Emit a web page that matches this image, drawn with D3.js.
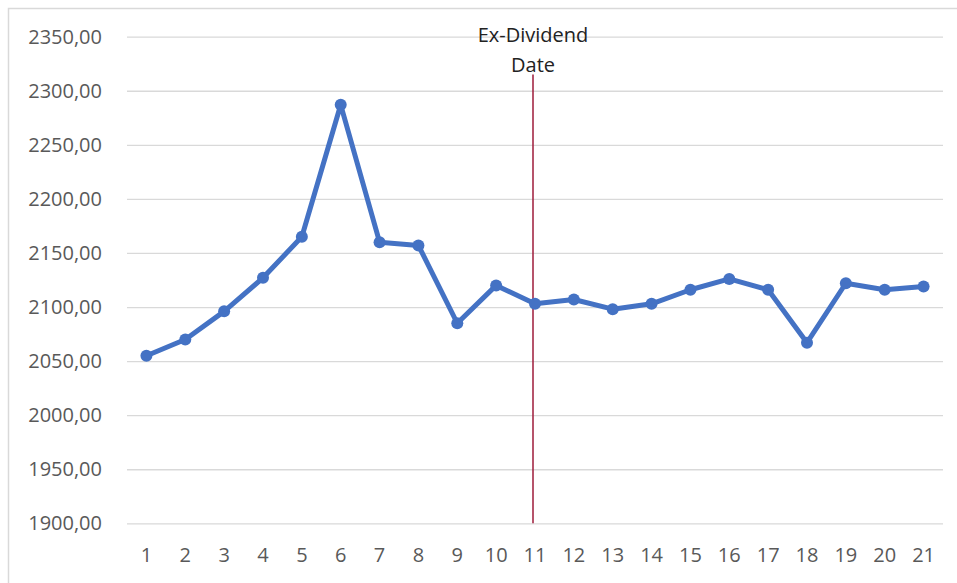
<!DOCTYPE html>
<html lang="en">
<head>
    <meta charset="UTF-8">
    <title>Ex-Dividend Date</title>
    <script src="https://d3js.org/d3.v7.min.js"></script>
    <style>
        body { margin: 0; background: #fff; }
        #chart { width: 957px; height: 583px; }
        .tick text { font-family: "Open Sans", "Noto Sans", sans-serif; fill: #595959; }
    </style>
</head>
<body>
<div id="chart"></div>
<script>
    // data
    const days = ["1","2","3","4","5","6","7","8","9","10","11","12","13","14","15","16","17","18","19","20","21"];
    const prices = [2055, 2070, 2096, 2127, 2165, 2287, 2160, 2157, 2085, 2120, 2103, 2107, 2098, 2103, 2116, 2126, 2116, 2067, 2122, 2116, 2119];
    const yTicks = [1900, 1950, 2000, 2050, 2100, 2150, 2200, 2250, 2300, 2350];
    const exDivDay = "11";
    const noteLines = ["Ex-Dividend", "Date"];

    const W = 957, H = 583;
    const margin = { top: 36.7, right: 14, bottom: 59.7, left: 127 };
    const width = W - margin.left - margin.right;
    const height = H - margin.top - margin.bottom;
    const fs = 20;

    const svg = d3.select("#chart").append("svg")
        .attr("width", W)
        .attr("height", H);

    // outer frame (only top and left edges visible in the crop)
    svg.append("path")
        .attr("d", `M8.5,${H} V8.5 H${W}`)
        .attr("fill", "none")
        .attr("stroke", "#d9d9d9")
        .attr("stroke-width", 1.5);

    const g = svg.append("g")
        .attr("transform", `translate(${margin.left},${margin.top})`);

    const x = d3.scaleBand().domain(days).range([0, width]);
    const y = d3.scaleLinear().domain([1900, 2350]).range([height, 0]);

    // gridlines + y labels
    const yAxis = d3.axisLeft(y)
        .tickValues(yTicks)
        .tickSize(-width)
        .tickPadding(25)
        .tickFormat(d => d3.format(".2f")(d).replace(".", ","));
    g.append("g").call(yAxis)
        .call(s => s.select(".domain").remove())
        .call(s => s.selectAll(".tick line").attr("stroke", "#d9d9d9").attr("stroke-width", 1.3))
        .call(s => s.selectAll(".tick text").attr("font-size", fs));

    // x labels
    const xAxis = d3.axisBottom(x).tickSize(0).tickPadding(38.5);
    g.append("g")
        .attr("transform", `translate(0,${height})`)
        .call(xAxis)
        .call(s => s.select(".domain").remove())
        .call(s => s.selectAll(".tick text").attr("font-size", fs).attr("dy", 0));

    const cx = d => x(d) + x.bandwidth() / 2;

    // ex-dividend marker
    g.append("line")
        .attr("x1", cx(exDivDay) - 2).attr("x2", cx(exDivDay) - 2)
        .attr("y1", y(1900)).attr("y2", y(2315))
        .attr("stroke", "#9e1b3a")
        .attr("stroke-width", 1.5);

    g.append("text")
        .attr("x", cx(exDivDay) - 2)
        .attr("y", y(2350) + 5.5)
        .attr("text-anchor", "middle")
        .attr("font-family", "'Open Sans', 'Noto Sans', sans-serif")
        .attr("font-size", fs)
        .attr("fill", "#222")
        .selectAll("tspan")
        .data(noteLines)
        .join("tspan")
        .attr("x", cx(exDivDay) - 2)
        .attr("dy", (d, i) => i === 0 ? 0 : 30)
        .text(d => d);

    // price line
    const line = d3.line()
        .x((d, i) => cx(days[i]))
        .y(d => y(d));

    g.append("path")
        .datum(prices)
        .attr("fill", "none")
        .attr("stroke", "#4472c4")
        .attr("stroke-width", 5)
        .attr("stroke-linejoin", "round")
        .attr("d", line);

    g.selectAll("circle.pt")
        .data(prices)
        .join("circle")
        .attr("class", "pt")
        .attr("cx", (d, i) => cx(days[i]))
        .attr("cy", d => y(d))
        .attr("r", 6)
        .attr("fill", "#4472c4");
</script>
</body>
</html>
